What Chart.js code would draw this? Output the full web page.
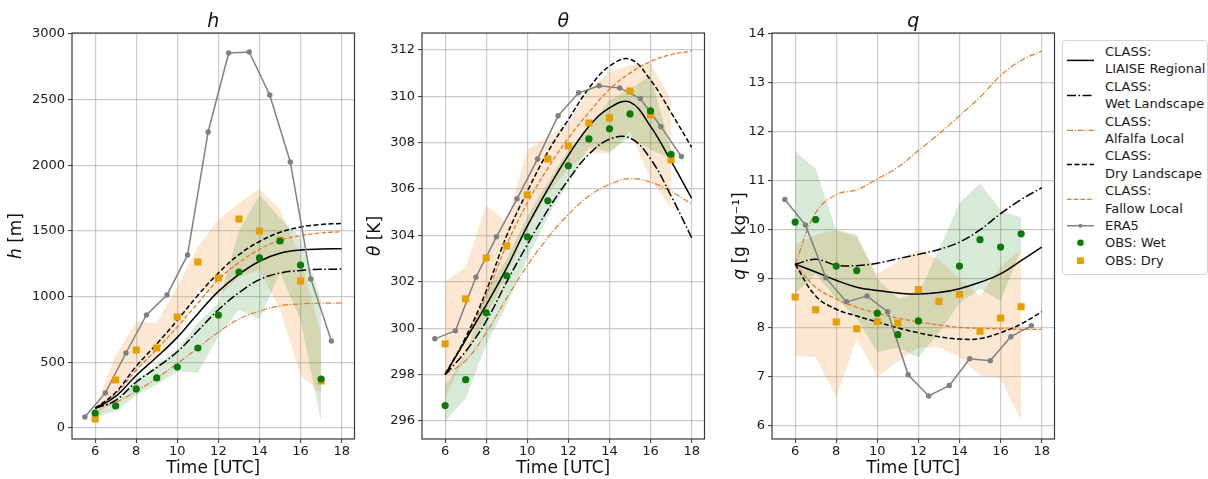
<!DOCTYPE html>
<html>
<head>
<meta charset="utf-8">
<script src="https://cdn.jsdelivr.net/npm/chart.js@4"></script>
<style>
  body { margin: 0; background: #fff; width: 1208px; height: 479px; position: relative; overflow: hidden; font-family: 'DejaVu Sans', sans-serif; }
  canvas { position: absolute; top: 0; }
  #legend { position: absolute; left: 1062px; top: 40px; width: 146px; height: 235px; box-sizing: border-box;
            border: 1px solid #d4d4d4; border-radius: 4px; padding: 2px 0 0 4px; background: #fff;
            font-size: 13px; line-height: 17.4px; color: #1a1a1a; white-space: nowrap; }
  #legend .row { display: flex; align-items: flex-start; }
  #legend svg { flex: none; margin-right: 11px; }
</style>
</head>
<body>
<canvas id="chartH" width="360" height="479" style="left:0px"></canvas>
<canvas id="chartT" width="350" height="479" style="left:360px"></canvas>
<canvas id="chartQ" width="350" height="479" style="left:710px"></canvas>
<div id="legend"></div>
<script>
// time axes
const obsHours = [6, 7, 8, 9, 10, 11, 12, 13, 14, 15, 16, 17];
const modelHours = [6, 7, 8, 9, 10, 11, 12, 13, 14, 15, 16, 17, 18];
const era5Hours = [5.5, 6.5, 7.5, 8.5, 9.5, 10.5, 11.5, 12.5, 13.5, 14.5, 15.5, 16.5, 17.5];
const timeTicks = [6, 8, 10, 12, 14, 16, 18];

// h [m]
const hTicks = [0, 500, 1000, 1500, 2000, 2500, 3000];
const hRegional = [150, 240, 400, 540, 690, 870, 1040, 1170, 1270, 1330, 1355, 1363, 1365];
const hWetLand = [150, 210, 350, 460, 580, 740, 900, 1030, 1130, 1180, 1200, 1208, 1210];
const hAlfalfa = [150, 195, 280, 380, 490, 610, 730, 830, 890, 930, 945, 950, 952];
const hDryLand = [150, 270, 470, 640, 820, 1010, 1180, 1320, 1420, 1490, 1530, 1550, 1558];
const hFallow = [150, 260, 440, 600, 770, 950, 1130, 1260, 1360, 1430, 1465, 1485, 1495];
const hEra5 = [84, 267, 571, 861, 1013, 1318, 2254, 2856, 2864, 2536, 2026, 1135, 663];
const hObsWet = [114, 168, 297, 381, 464, 609, 860, 1188, 1295, 1424, 1241, 373];
const hObsDry = [69, 366, 594, 609, 845, 1264, 1142, 1592, 1500, 1430, 1120, 358];
const hWetLow = [80, 130, 250, 330, 430, 420, 700, 900, 830, 1180, 820, 50];
const hWetHigh = [160, 230, 370, 480, 600, 800, 950, 1500, 1775, 1600, 1450, 970];
const hDryLow = [40, 280, 450, 540, 700, 1060, 1000, 1150, 1200, 900, 400, 260];
const hDryHigh = [150, 556, 807, 800, 1075, 1380, 1584, 1714, 1820, 1660, 1300, 700];

// theta [K]
const tTicks = [296, 298, 300, 302, 304, 306, 308, 310, 312];
const tRegional = [298.0, 299.5, 301.0, 302.6, 304.4, 306.0, 307.45, 308.7, 309.5, 309.75, 308.7, 307.2, 305.6];
const tWetLand = [298.0, 299.0, 300.3, 302.0, 303.6, 305.1, 306.4, 307.5, 308.15, 308.2, 307.3, 305.7, 303.9];
const tAlfalfa = [298.0, 298.6, 299.8, 301.3, 302.7, 303.9, 304.9, 305.7, 306.2, 306.45, 306.3, 305.9, 305.35];
const tDryLand = [298.0, 299.6, 301.6, 304.0, 305.9, 307.6, 309.0, 310.35, 311.3, 311.6, 310.7, 309.3, 307.8];
const tFallow = [298.0, 299.5, 301.4, 303.6, 305.4, 306.9, 308.2, 309.3, 310.3, 311.0, 311.5, 311.8, 311.95];
const tEra5 = [299.54, 299.89, 302.2, 303.94, 305.58, 307.3, 309.16, 310.15, 310.45, 310.36, 309.9, 308.7, 307.4];
const tObsWet = [296.66, 297.78, 300.66, 302.26, 303.94, 305.49, 307.0, 308.16, 308.6, 309.24, 309.37, 307.5];
const tObsDry = [299.33, 301.27, 303.03, 303.55, 305.75, 307.3, 307.86, 308.85, 309.07, 310.23, 309.2, 307.26];
const tWetLow = [296.0, 296.96, 299.3, 301.0, 303.0, 304.8, 306.3, 307.8, 307.6, 308.25, 307.7, 307.3];
const tWetHigh = [297.5, 298.9, 301.5, 303.0, 304.8, 306.3, 307.7, 308.6, 309.85, 310.3, 310.9, 307.7];
const tDryLow = [297.0, 298.8, 300.5, 302.3, 304.3, 305.8, 306.9, 307.6, 307.5, 308.5, 306.4, 305.2];
const tDryHigh = [302.0, 302.65, 305.3, 304.6, 307.7, 308.25, 308.85, 310.3, 311.05, 311.35, 311.4, 309.85];

// q [g kg-1]
const qTicks = [6, 7, 8, 9, 10, 11, 12, 13, 14];
const qRegional = [9.3, 9.14, 8.97, 8.83, 8.76, 8.71, 8.69, 8.72, 8.8, 8.93, 9.1, 9.37, 9.65];
const qWetLand = [9.3, 9.4, 9.28, 9.27, 9.32, 9.41, 9.5, 9.6, 9.75, 10.0, 10.33, 10.62, 10.86];
const qAlfalfa = [9.3, 10.35, 10.72, 10.82, 11.04, 11.28, 11.62, 11.96, 12.33, 12.71, 13.15, 13.46, 13.65];
const qDryLand = [9.3, 8.65, 8.38, 8.24, 8.12, 8.0, 7.9, 7.82, 7.77, 7.78, 7.9, 8.08, 8.33];
const qFallow = [9.3, 8.83, 8.59, 8.42, 8.3, 8.2, 8.12, 8.06, 8.01, 7.99, 7.98, 7.97, 7.97];
const qEra5 = [10.62, 10.1, 9.02, 8.53, 8.65, 8.33, 7.04, 6.61, 6.82, 7.37, 7.33, 7.82, 8.04];
const qObsWet = [10.16, 10.21, 9.26, 9.17, 8.3, 7.86, 8.14, null, 9.26, 9.8, 9.65, 9.92];
const qObsDry = [8.63, 8.37, 8.12, 7.98, 8.13, 8.1, 8.78, 8.54, 8.68, 7.93, 8.2, 8.43];
const qWetLow = [8.7, 9.1, 8.6, 8.2, 7.5, 7.6, 7.4, 7.9, 8.5, 8.8, 8.55, 9.6];
const qWetHigh = [11.6, 11.25, 10.0, 9.9, 9.0, 8.6, 8.7, 9.6, 10.55, 10.95, 10.4, 10.25];
const qDryLow = [7.43, 7.4, 6.58, 7.78, 6.99, 7.3, 7.6, 7.6, 7.4, 7.03, 6.96, 6.11];
const qDryHigh = [9.7, 9.9, 10.0, 9.85, 9.1, 9.35, 9.6, 9.4, 9.0, 8.65, 9.25, 9.6];

const FONT = "'DejaVu Sans'";
const ORANGE_LINE = "#e07a2c";
const GREEN_OBS = "#0b7a0b";
const ORANGE_OBS = "#e69f00";
const ERA5_GREY = "#808080";
const WET_BAND = "rgba(20,130,20,0.17)";
const DRY_BAND = "rgba(240,150,50,0.22)";

const modelStyles = [
  { key: "regional", label: ["CLASS:", "LIAISE Regional"], color: "#000", dash: [], width: 1.5 },
  { key: "wetLand", label: ["CLASS:", "Wet Landscape"], color: "#000", dash: [9, 2.5, 1.6, 2.5], width: 1.5 },
  { key: "alfalfa", label: ["CLASS:", "Alfalfa Local"], color: ORANGE_LINE, dash: [6, 1.8, 1.2, 1.8], width: 1.2 },
  { key: "dryLand", label: ["CLASS:", "Dry Landscape"], color: "#000", dash: [5, 2.5], width: 1.5 },
  { key: "fallow", label: ["CLASS:", "Fallow Local"], color: ORANGE_LINE, dash: [4.5, 2.2], width: 1.3 },
];

const pts = (xs, ys) => xs.map((x, i) => ({ x: x, y: ys[i] }));

function buildDatasets(p) {
  const sets = [
    { data: pts(obsHours, p.dryLow), borderWidth: 0, pointRadius: 0, fill: false, order: 6 },
    { data: pts(obsHours, p.dryHigh), borderWidth: 0, pointRadius: 0, fill: "-1", backgroundColor: DRY_BAND, order: 6 },
    { data: pts(obsHours, p.wetLow), borderWidth: 0, pointRadius: 0, fill: false, order: 5 },
    { data: pts(obsHours, p.wetHigh), borderWidth: 0, pointRadius: 0, fill: "-1", backgroundColor: WET_BAND, order: 5 },
  ];
  modelStyles.forEach((s) => {
    sets.push({
      data: pts(modelHours, p.models[s.key]),
      borderColor: s.color,
      borderWidth: s.width,
      borderDash: s.dash,
      pointRadius: 0,
      tension: 0.4,
      fill: false,
      order: 3,
    });
  });
  sets.push({
    data: pts(era5Hours, p.era5),
    borderColor: ERA5_GREY,
    borderWidth: 1.5,
    pointRadius: 2,
    pointBackgroundColor: ERA5_GREY,
    pointBorderColor: ERA5_GREY,
    tension: 0,
    fill: false,
    order: 2,
  });
  sets.push({
    data: pts(obsHours, p.obsDry),
    showLine: false,
    pointStyle: "rect",
    pointRadius: 5,
    pointBackgroundColor: ORANGE_OBS,
    pointBorderColor: ORANGE_OBS,
    pointBorderWidth: 0,
    order: 1,
  });
  sets.push({
    data: pts(obsHours, p.obsWet),
    showLine: false,
    pointStyle: "circle",
    pointRadius: 3.6,
    pointBackgroundColor: GREEN_OBS,
    pointBorderColor: GREEN_OBS,
    pointBorderWidth: 0,
    order: 0,
  });
  return sets;
}

// frame, panel title and mixed-style y label
const framePlugin = {
  id: "frame",
  afterDatasetsDraw(chart) {
    const { ctx, chartArea: a } = chart;
    ctx.save();
    ctx.strokeStyle = "#3a3a3a";
    ctx.lineWidth = 1.2;
    ctx.strokeRect(a.left, a.top, a.right - a.left, a.bottom - a.top);
    ctx.restore();
  },
};

const labelPlugin = {
  id: "panelLabels",
  afterDraw(chart, args, opts) {
    const { ctx, chartArea: a } = chart;
    ctx.save();
    ctx.fillStyle = "#111";
    ctx.textBaseline = "middle";
    ctx.textAlign = "center";
    ctx.font = "italic 19px " + FONT;
    ctx.fillText(opts.title, (a.left + a.right) / 2, 22);

    ctx.translate(opts.labelX, (a.top + a.bottom) / 2);
    ctx.rotate(-Math.PI / 2);
    ctx.textAlign = "left";
    const italic = "italic 17px " + FONT;
    const normal = "17px " + FONT;
    ctx.font = italic;
    const w1 = ctx.measureText(opts.sym).width;
    ctx.font = normal;
    const w2 = ctx.measureText(opts.unit).width;
    const x0 = -(w1 + w2) / 2;
    ctx.font = italic;
    ctx.fillText(opts.sym, x0, 0);
    ctx.font = normal;
    ctx.fillText(opts.unit, x0 + w1, 0);
    ctx.restore();
  },
};

function makeChart(id, p) {
  const ctx = document.getElementById(id).getContext("2d");
  return new Chart(ctx, {
    type: "line",
    data: { datasets: buildDatasets(p) },
    plugins: [framePlugin, labelPlugin],
    options: {
      responsive: false,
      animation: false,
      events: [],
      layout: { padding: { top: 33, right: 5, left: 0, bottom: 0 } },
      plugins: {
        legend: { display: false },
        tooltip: { enabled: false },
        title: { display: false },
        panelLabels: { title: p.title, sym: p.sym, unit: p.unit, labelX: p.labelX },
      },
      scales: {
        x: {
          type: "linear",
          min: 4.875,
          max: 18.625,
          afterBuildTicks: (s) => { s.ticks = timeTicks.map((v) => ({ value: v })); },
          afterFit: (s) => { s.height = 40; },
          grid: { color: "rgba(170,170,170,0.6)", lineWidth: 1.2, tickLength: 4, tickColor: "#333", tickWidth: 1 },
          border: { display: false },
          ticks: { autoSkip: false, maxRotation: 0, padding: 1, color: "#1a1a1a", font: { family: FONT, size: 13 }, callback: (v) => String(v) },
          title: { display: true, text: "Time [UTC]", color: "#111", padding: { top: 0, bottom: 1.5 }, font: { family: FONT, size: 17, lineHeight: 1 } },
        },
        y: {
          type: "linear",
          min: p.yMin,
          max: p.yMax,
          afterBuildTicks: (s) => { s.ticks = p.yTicks.map((v) => ({ value: v })); },
          afterFit: (s) => { s.width = p.yWidth; },
          grid: { color: "rgba(170,170,170,0.6)", lineWidth: 1.2, tickLength: 4, tickColor: "#333", tickWidth: 1 },
          border: { display: false },
          ticks: { padding: 3, color: "#1a1a1a", font: { family: FONT, size: 13 }, callback: (v) => String(v) },
        },
      },
    },
  });
}

makeChart("chartH", {
  title: "h", sym: "h", unit: " [m]", labelX: 17, yWidth: 72,
  yMin: -84, yMax: 3008, yTicks: hTicks,
  models: { regional: hRegional, wetLand: hWetLand, alfalfa: hAlfalfa, dryLand: hDryLand, fallow: hFallow },
  era5: hEra5, obsWet: hObsWet, obsDry: hObsDry,
  wetLow: hWetLow, wetHigh: hWetHigh, dryLow: hDryLow, dryHigh: hDryHigh,
});

makeChart("chartT", {
  title: "θ", sym: "θ", unit: " [K]", labelX: 16, yWidth: 62,
  yMin: 295.22, yMax: 312.73, yTicks: tTicks,
  models: { regional: tRegional, wetLand: tWetLand, alfalfa: tAlfalfa, dryLand: tDryLand, fallow: tFallow },
  era5: tEra5, obsWet: tObsWet, obsDry: tObsDry,
  wetLow: tWetLow, wetHigh: tWetHigh, dryLow: tDryLow, dryHigh: tDryHigh,
});

makeChart("chartQ", {
  title: "q", sym: "q", unit: " [g  kg⁻¹]", labelX: 31, yWidth: 62,
  yMin: 5.73, yMax: 14.02, yTicks: qTicks,
  models: { regional: qRegional, wetLand: qWetLand, alfalfa: qAlfalfa, dryLand: qDryLand, fallow: qFallow },
  era5: qEra5, obsWet: qObsWet, obsDry: qObsDry,
  wetLow: qWetLow, wetHigh: qWetHigh, dryLow: qDryLow, dryHigh: qDryHigh,
});

// legend built from the same styles
const legendItems = modelStyles.map((s) => ({ label: s.label, line: s }));
legendItems.push({ label: ["ERA5"], line: { color: ERA5_GREY, dash: [], width: 1.5 }, marker: { shape: "circle", r: 2, color: ERA5_GREY } });
legendItems.push({ label: ["OBS: Wet"], marker: { shape: "circle", r: 3.3, color: GREEN_OBS } });
legendItems.push({ label: ["OBS: Dry"], marker: { shape: "rect", r: 3.4, color: ORANGE_OBS } });

const legendEl = document.getElementById("legend");
legendItems.forEach((item) => {
  const h = item.label.length * 17.4;
  const mid = h / 2;
  let svg = `<svg width="27" height="${h}">`;
  if (item.line) {
    svg += `<line x1="0" x2="27" y1="${mid}" y2="${mid}" stroke="${item.line.color}" stroke-width="${item.line.width}" stroke-dasharray="${item.line.dash.length ? item.line.dash.join(" ") : "none"}"/>`;
  }
  if (item.marker) {
    const m = item.marker;
    if (m.shape === "circle") {
      svg += `<circle cx="13.5" cy="${mid}" r="${m.r}" fill="${m.color}"/>`;
    } else {
      svg += `<rect x="${13.5 - m.r}" y="${mid - m.r}" width="${2 * m.r}" height="${2 * m.r}" fill="${m.color}"/>`;
    }
  }
  svg += "</svg>";
  const row = document.createElement("div");
  row.className = "row";
  row.innerHTML = svg + `<div>${item.label.join("<br>")}</div>`;
  legendEl.appendChild(row);
});
</script>
</body>
</html>
